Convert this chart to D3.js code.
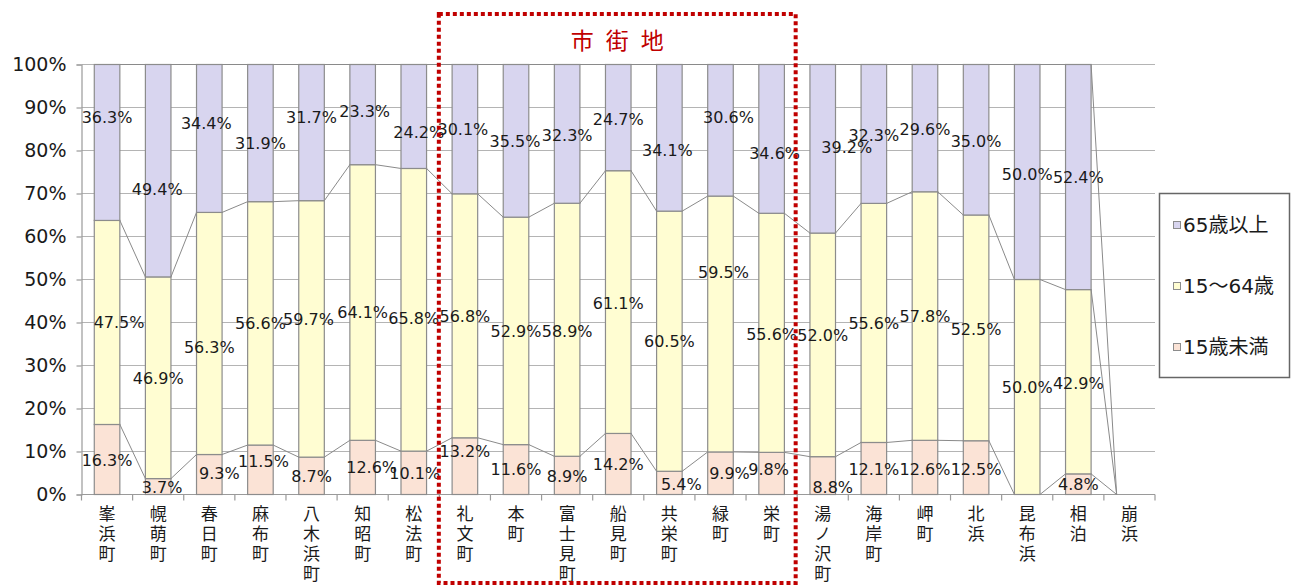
<!DOCTYPE html>
<html>
<head>
<meta charset="utf-8">
<script src="https://cdn.jsdelivr.net/npm/d3@7"></script>
<style>
  html, body { margin: 0; padding: 0; background: #fff; }
  svg { display: block; }
  text { font-family: "DejaVu Sans", "Noto Sans CJK JP", sans-serif; }
  .cat { writing-mode: vertical-rl; text-orientation: upright; letter-spacing: 3px; }
</style>
</head>
<body>
<svg id="chart" width="1296" height="586"></svg>
<script>
// Age structure by district (share of population, %)
const categories = ["峯浜町", "幌萌町", "春日町", "麻布町", "八木浜町", "知昭町", "松法町",
  "礼文町", "本町", "富士見町", "船見町", "共栄町", "緑町", "栄町",
  "湯ノ沢町", "海岸町", "岬町", "北浜", "昆布浜", "相泊", "崩浜"];

const under15 = [16.3, 3.7, 9.3, 11.5, 8.7, 12.6, 10.1, 13.2, 11.6, 8.9, 14.2, 5.4, 9.9, 9.8,
  8.8, 12.1, 12.6, 12.5, 0, 4.8, 0];
const age15to64 = [47.5, 46.9, 56.3, 56.6, 59.7, 64.1, 65.8, 56.8, 52.9, 58.9, 61.1, 60.5, 59.5, 55.6,
  52.0, 55.6, 57.8, 52.5, 50.0, 42.9, 0];
const over65 = [36.3, 49.4, 34.4, 31.9, 31.7, 23.3, 24.2, 30.1, 35.5, 32.3, 24.7, 34.1, 30.6, 34.6,
  39.2, 32.3, 29.6, 35.0, 50.0, 52.4, 0];

const seriesNames = ["15歳未満", "15～64歳", "65歳以上"];
const yTickValues = [0, 10, 20, 30, 40, 50, 60, 70, 80, 90, 100];
const highlightTitle = "市街地";
const highlightFirst = "礼文町", highlightLast = "栄町";

// Hand-placed data-label anchors (percent on the value axis) and horizontal nudges (px)
const labelAtUnder15 = [7.8, 1.7, 5.0, 7.6, 4.1, 6.2, 5.0, 9.9, 5.7, 4.3, 6.9, 2.4, 5.0, 5.9,
  1.7, 5.9, 5.9, 5.9, 0, 2.4, 0];
const nudgeUnder15 = [0, 4, 10, 3, 0, 9, 1, 0, 0, 0, 0, 12, 9, -3, 10, 0, 0, 0, 0, 0, 0];
const labelAt15to64 = [39.9, 26.9, 34.1, 39.7, 40.8, 42.4, 41.0, 41.3, 37.8, 37.8, 44.5, 35.5, 51.7, 37.3,
  36.9, 39.7, 41.3, 38.3, 25.0, 25.7, 0];
const nudge15to64 = [12, 0, 0, 0, -3, 0, 0, 0, 0, 0, 0, 0, 3, 0, 0, 0, 0, 0, 0, 0, 0];
const labelAtOver65 = [87.6, 71.0, 86.2, 81.7, 87.6, 89.0, 84.3, 84.8, 82.0, 83.4, 87.3, 80.1, 87.6, 79.2,
  80.6, 83.4, 84.8, 82.2, 74.5, 73.8, 0];
const nudgeOver65 = [0, -1, -3, 0, 0, 2, 5, -2, -1, 0, 0, -2, 8, 3, 24, 0, 0, 0, 0, 0, 0];

const colors = ["#fbe3d6", "#fffdd2", "#d8d5ef"];

const svg = d3.select("#chart");
const margin = { left: 81.5, right: 1155, top: 64.5, bottom: 494.5 };

const x = d3.scaleBand().domain(categories).range([margin.left, margin.right]).paddingInner(0.5).paddingOuter(0.25);
const y = d3.scaleLinear().domain([0, 1]).range([margin.bottom, margin.top]);

const table = categories.map((c, i) => ({ cat: c, a: under15[i], b: age15to64[i], c: over65[i] }));
const stacked = d3.stack().keys(["a", "b", "c"]).offset(d3.stackOffsetExpand)(table);

// gridlines
svg.append("g").selectAll("line").data(yTickValues).join("line")
  .attr("x1", margin.left).attr("x2", margin.right)
  .attr("y1", d => y(d / 100)).attr("y2", d => y(d / 100))
  .attr("stroke", "#b4b4b4").attr("stroke-width", 1.2);

// y axis
const yAxis = d3.axisLeft(y).tickValues(yTickValues.map(v => v / 100))
  .tickFormat(d3.format(".0%")).tickSize(5).tickPadding(10);
const gy = svg.append("g").attr("transform", `translate(${margin.left},0)`).call(yAxis);
gy.select(".domain").attr("stroke", "#9a9a9a").attr("stroke-width", 1.2);
gy.selectAll(".tick line").attr("stroke", "#9a9a9a").attr("stroke-width", 1.2);
gy.selectAll(".tick text").attr("font-size", 19).attr("fill", "#1a1a1a")
  .style("font-family", "'DejaVu Sans', sans-serif");

// x axis baseline and tick marks at band boundaries
const step = x.step();
const boundaries = d3.range(categories.length + 1).map(i => margin.left + i * step);
svg.append("line").attr("x1", margin.left).attr("x2", margin.right)
  .attr("y1", margin.bottom).attr("y2", margin.bottom)
  .attr("stroke", "#9a9a9a").attr("stroke-width", 1.2);
svg.append("g").selectAll("line").data(boundaries).join("line")
  .attr("x1", d => d).attr("x2", d => d)
  .attr("y1", margin.bottom).attr("y2", margin.bottom + 6)
  .attr("stroke", "#9a9a9a").attr("stroke-width", 1.2);

// bars
stacked.forEach((s, si) => {
  svg.append("g").selectAll("rect").data(s.filter(d => d[1] - d[0] > 0)).join("rect")
    .attr("x", d => x(d.data.cat))
    .attr("width", x.bandwidth())
    .attr("y", d => y(d[1]))
    .attr("height", d => y(d[0]) - y(d[1]))
    .attr("fill", colors[si])
    .attr("stroke", "#8c8c8c").attr("stroke-width", 1.2);
});

// series lines linking segment tops of neighbouring bars
stacked.forEach(s => {
  const segs = [];
  for (let i = 0; i < s.length - 1; i++) {
    segs.push({
      x1: x(categories[i]) + x.bandwidth(), y1: y(s[i][1]),
      x2: x(categories[i + 1]), y2: y(s[i + 1][1])
    });
  }
  svg.append("g").selectAll("line").data(segs).join("line")
    .attr("x1", d => d.x1).attr("y1", d => d.y1)
    .attr("x2", d => d.x2).attr("y2", d => d.y2)
    .attr("stroke", "#8a8a8a").attr("stroke-width", 1);
});

// data labels
const labelSets = [
  { vals: under15, at: labelAtUnder15, nudge: nudgeUnder15 },
  { vals: age15to64, at: labelAt15to64, nudge: nudge15to64 },
  { vals: over65, at: labelAtOver65, nudge: nudgeOver65 }
];
labelSets.forEach(set => {
  const items = categories.map((c, i) => ({ c, v: set.vals[i], at: set.at[i], dx: set.nudge[i] }))
    .filter(d => d.v > 0);
  svg.append("g").selectAll("text").data(items).join("text")
    .attr("x", d => x(d.c) + x.bandwidth() / 2 + d.dx)
    .attr("y", d => y(d.at / 100))
    .attr("text-anchor", "middle")
    .attr("dominant-baseline", "central")
    .attr("font-size", 16)
    .attr("fill", "#1a1a1a")
    .text(d => d3.format(".1f")(d.v) + "%");
});

// vertical category labels
svg.append("g").selectAll("text").data(categories).join("text")
  .attr("class", "cat")
  .attr("x", d => x(d) + x.bandwidth() / 2)
  .attr("y", 505)
  .attr("font-size", 17)
  .attr("fill", "#1a1a1a")
  .style("font-family", "'Noto Sans CJK JP', sans-serif")
  .text(d => d);

// highlighted district group
const hx0 = x(highlightFirst) - (step - x.bandwidth()) / 2 - 0.5;
const hx1 = x(highlightLast) + x.bandwidth() + (step - x.bandwidth()) / 2 - 1.5;
svg.append("rect")
  .attr("x", hx0).attr("y", 14)
  .attr("width", hx1 - hx0).attr("height", 569)
  .attr("fill", "none").attr("stroke", "#c00000")
  .attr("stroke-width", 4).attr("stroke-dasharray", "4 3");
const titleChars = Array.from(highlightTitle);
svg.append("g").selectAll("text").data(titleChars).join("text")
  .attr("x", (d, i) => (hx0 + hx1) / 2 + (i - 1) * 35)
  .attr("y", 39)
  .attr("text-anchor", "middle").attr("dominant-baseline", "central")
  .attr("font-size", 23).attr("fill", "#c00000")
  .style("font-family", "'Noto Sans CJK JP', sans-serif")
  .text(d => d);

// legend
const legend = svg.append("g");
legend.append("rect").attr("x", 1159.5).attr("y", 193.5).attr("width", 130).attr("height", 184)
  .attr("fill", "#fff").attr("stroke", "#666").attr("stroke-width", 1.5);
const legendOrder = [2, 1, 0];
const legendY = [225, 286, 347];
legendOrder.forEach((si, k) => {
  legend.append("rect").attr("x", 1173.5).attr("y", legendY[k] - 3.5).attr("width", 7).attr("height", 7)
    .attr("fill", colors[si]).attr("stroke", "#8c8c8c").attr("stroke-width", 1);
  legend.append("text").attr("x", 1183).attr("y", legendY[k])
    .attr("dominant-baseline", "central").attr("font-size", 20).attr("fill", "#1a1a1a")
    .text(seriesNames[si]);
});
</script>
</body>
</html>
